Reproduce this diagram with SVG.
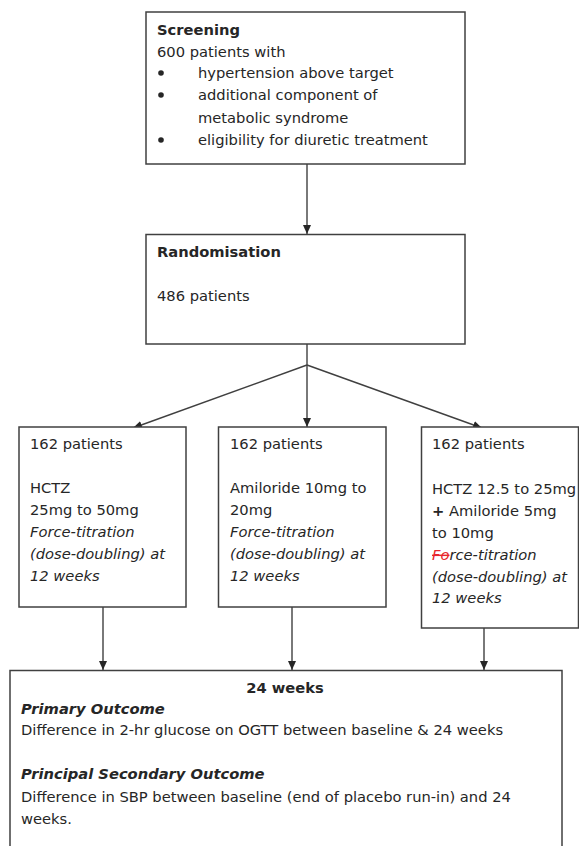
<svg xmlns="http://www.w3.org/2000/svg" width="579" height="846" viewBox="0 0 579 846">
<defs>
<style>
.box{fill:#fff;stroke:#404040;stroke-width:1.5}
.t{font-family:"DejaVu Sans","Liberation Sans",sans-serif;font-size:14.7px;fill:#262626}
.b{font-weight:bold}
.i{font-style:italic}
.c{fill:none;stroke:#404040;stroke-width:1.4}
</style>
<marker id="ah" markerUnits="userSpaceOnUse" markerWidth="9" markerHeight="8" refX="9" refY="4" orient="auto">
<path d="M0,0 L9,4 L0,8 z" fill="#262626"/>
</marker>
</defs>
<rect width="579" height="846" fill="#fff"/>

<g id="connectors">
<line class="c" x1="307" y1="164" x2="307" y2="234" marker-end="url(#ah)"/>
<line class="c" x1="307" y1="344" x2="307" y2="365"/>
<line class="c" x1="307" y1="365" x2="133" y2="428" marker-end="url(#ah)"/>
<line class="c" x1="307" y1="365" x2="307" y2="427" marker-end="url(#ah)"/>
<line class="c" x1="307" y1="365" x2="482" y2="428" marker-end="url(#ah)"/>
<line class="c" x1="103" y1="607" x2="103" y2="670" marker-end="url(#ah)"/>
<line class="c" x1="292" y1="607" x2="292" y2="670" marker-end="url(#ah)"/>
<line class="c" x1="484" y1="628" x2="484" y2="670" marker-end="url(#ah)"/>
</g>

<g id="screening">
<rect class="box" x="146" y="12" width="319" height="152"/>
<text class="t b" x="157" y="35">Screening</text>
<text class="t" x="157" y="57">600 patients with</text>
<circle cx="161" cy="73" r="2.8" fill="#262626"/>
<circle cx="161" cy="95" r="2.8" fill="#262626"/>
<circle cx="161" cy="140" r="2.8" fill="#262626"/>
<text class="t" x="198" y="78">hypertension above target</text>
<text class="t" x="198" y="100">additional component of</text>
<text class="t" x="198" y="123">metabolic syndrome</text>
<text class="t" x="198" y="145">eligibility for diuretic treatment</text>
</g>

<g id="randomisation">
<rect class="box" x="146" y="234.5" width="319" height="109.5"/>
<text class="t b" x="157" y="257">Randomisation</text>
<text class="t" x="157" y="301">486 patients</text>
</g>

<g id="arm-hctz">
<rect class="box" x="19" y="427" width="167" height="180"/>
<text class="t" x="30" y="449">162 patients</text>
<text class="t" x="30" y="493">HCTZ</text>
<text class="t" x="30" y="515">25mg to 50mg</text>
<text class="t i" x="30" y="537">Force-titration</text>
<text class="t i" x="30" y="559">(dose-doubling) at</text>
<text class="t i" x="30" y="581">12 weeks</text>
</g>

<g id="arm-amiloride">
<rect class="box" x="218.5" y="427" width="167.5" height="180"/>
<text class="t" x="230" y="449">162 patients</text>
<text class="t" x="230" y="493">Amiloride 10mg to</text>
<text class="t" x="230" y="515">20mg</text>
<text class="t i" x="230" y="537">Force-titration</text>
<text class="t i" x="230" y="559">(dose-doubling) at</text>
<text class="t i" x="230" y="581">12 weeks</text>
</g>

<g id="arm-combination">
<rect class="box" x="421.5" y="427" width="157" height="201"/>
<text class="t" x="432" y="449">162 patients</text>
<text class="t" x="432" y="494">HCTZ 12.5 to 25mg</text>
<text class="t" x="432" y="516"><tspan class="b">+</tspan> Amiloride 5mg</text>
<text class="t" x="432" y="538">to 10mg</text>
<text class="t i" x="432" y="560"><tspan fill="#e8262b" text-decoration="line-through">Fo</tspan>rce-titration</text>
<text class="t i" x="432" y="582">(dose-doubling) at</text>
<text class="t i" x="432" y="603">12 weeks</text>
</g>

<g id="outcomes">
<rect class="box" x="10" y="670.5" width="552" height="190"/>
<text class="t b" x="285" y="693" text-anchor="middle">24 weeks</text>
<text class="t b i" x="21" y="714">Primary Outcome</text>
<text class="t" x="21" y="735">Difference in 2-hr glucose on OGTT between baseline &amp; 24 weeks</text>
<text class="t b i" x="21" y="779">Principal Secondary Outcome</text>
<text class="t" x="21" y="802">Difference in SBP between baseline (end of placebo run-in) and 24</text>
<text class="t" x="21" y="824">weeks.</text>
</g>
</svg>
